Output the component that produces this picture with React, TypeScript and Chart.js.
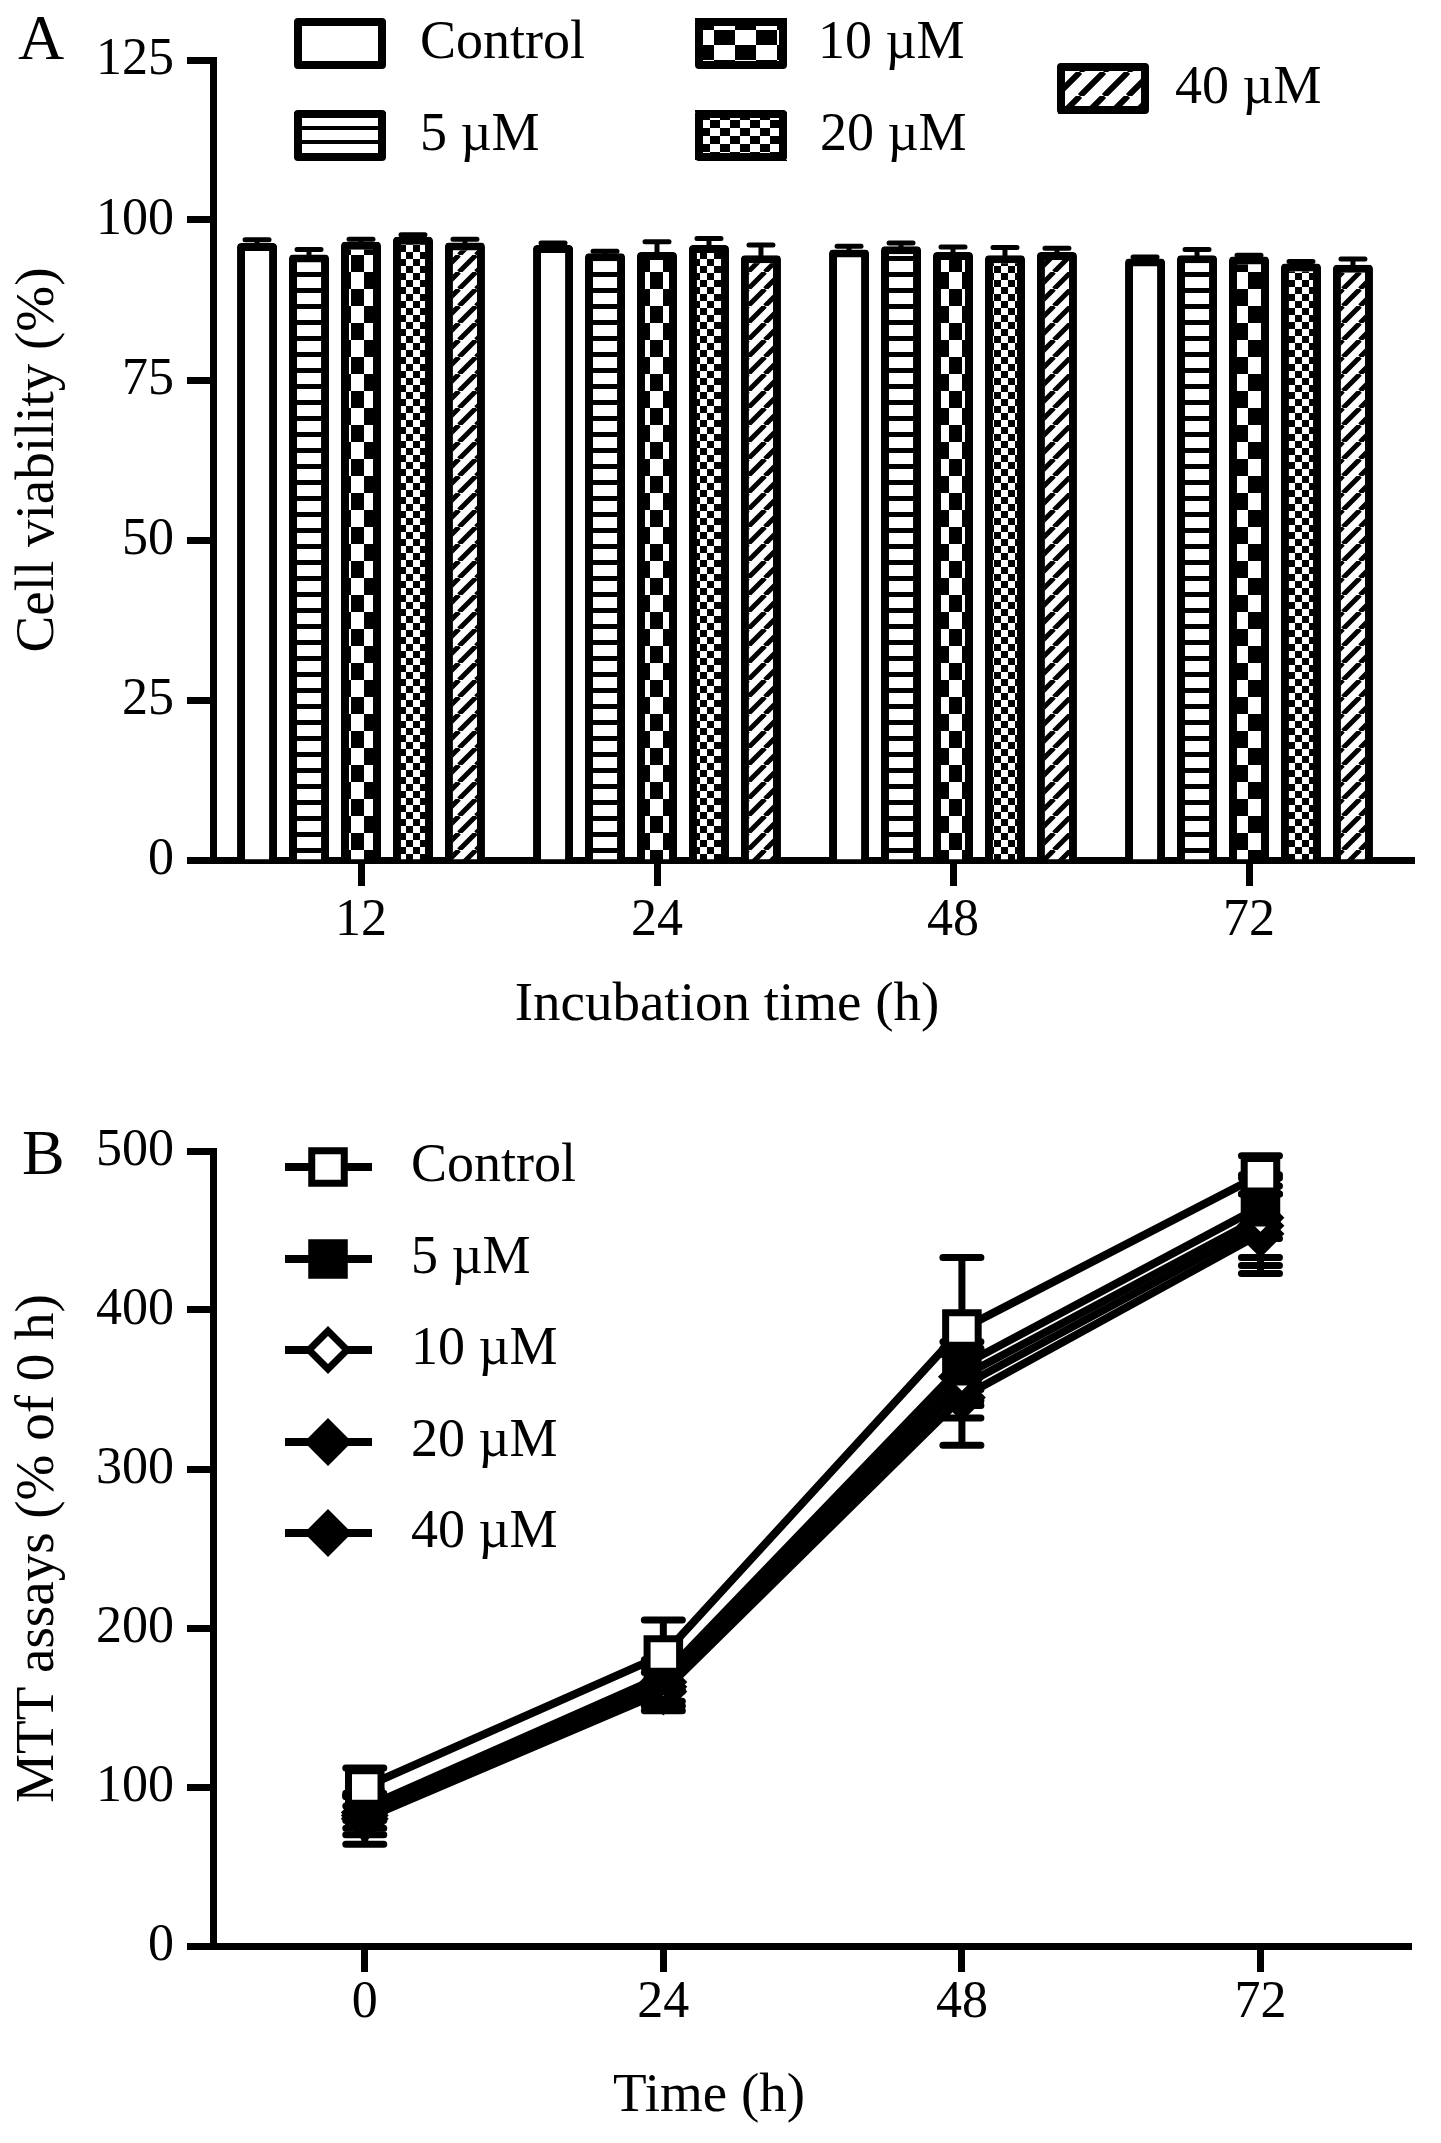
import React, { useEffect, useRef } from "react"
import { Chart, registerables } from "chart.js"

Chart.register(...registerables)

const SERIF = '"Liberation Serif", "Times New Roman", serif'

// ---- panel A: cell viability (%) ----
const viabilityTimes = ["12", "24", "48", "72"]
const doseLabels = ["Control", "5 µM", "10 µM", "20 µM", "40 µM"]
const viabilityControl = [96.4, 96.1, 95.4, 94.0]
const viability5 = [94.6, 94.8, 95.9, 94.5]
const viability10 = [96.6, 95.0, 95.0, 94.3]
const viability20 = [97.4, 96.1, 94.5, 93.2]
const viability40 = [96.5, 94.5, 95.0, 93.0]
const viabilityErrControl = [0.5, 0.3, 0.5, 0.2]
const viabilityErr5 = [0.8, 0.3, 0.5, 0.9]
const viabilityErr10 = [0.4, 1.6, 0.8, 0.2]
const viabilityErr20 = [0.3, 1.0, 1.2, 0.3]
const viabilityErr40 = [0.5, 1.6, 0.6, 0.9]
const viabilityMax = 125
const viabilityStep = 25

// ---- panel B: MTT assays (% of 0 h) ----
const mttTimes = [0, 24, 48, 72]
const mttControl = [100, 183, 388, 485]
const mtt5 = [87, 170, 365, 465]
const mtt10 = [84, 166, 358, 458]
const mtt20 = [82, 163, 352, 453]
const mtt40 = [80, 160, 345, 448]
const mttErrControl = [12, 22, 45, 12]
const mttErr5 = [8, 10, 15, 20]
const mttErr10 = [10, 12, 18, 25]
const mttErr20 = [12, 12, 20, 25]
const mttErr40 = [16, 12, 30, 25]
const mttMax = 500
const mttStep = 100

const viabilitySeries = [viabilityControl, viability5, viability10, viability20, viability40]
const viabilityErrors = [viabilityErrControl, viabilityErr5, viabilityErr10, viabilityErr20, viabilityErr40]
const mttSeries = [mttControl, mtt5, mtt10, mtt20, mtt40]
const mttErrors = [mttErrControl, mttErr5, mttErr10, mttErr20, mttErr40]

const WIDTH = 1441
const HEIGHT_A = 1060
const HEIGHT_B = 1083

type G = CanvasRenderingContext2D

const makePattern = (ctx: G, w: number, h: number, draw: (g: G) => void) => {
  const tile = document.createElement("canvas")
  tile.width = w
  tile.height = h
  const g = tile.getContext("2d")!
  g.fillStyle = "#fff"
  g.fillRect(0, 0, w, h)
  g.fillStyle = "#000"
  g.strokeStyle = "#000"
  draw(g)
  return ctx.createPattern(tile, "repeat")!
}
const stripes = (ctx: G, period: number, thick: number) =>
  makePattern(ctx, 8, period, (g) => g.fillRect(0, 0, 8, thick))
const checker = (ctx: G, cw: number, ch: number) =>
  makePattern(ctx, cw * 2, ch * 2, (g) => {
    g.fillRect(0, 0, cw, ch)
    g.fillRect(cw, ch, cw, ch)
  })
const hatch = (ctx: G, s: number, lw: number) =>
  makePattern(ctx, s, s, (g) => {
    g.lineWidth = lw
    g.beginPath()
    for (const k of [-1, 0, 1]) {
      g.moveTo(k * s, s)
      g.lineTo(k * s + s, 0)
    }
    g.stroke()
  })

const text = (ctx: G, s: string, x: number, y: number, size: number, align: CanvasTextAlign = "left") => {
  ctx.save()
  ctx.fillStyle = "#000"
  ctx.font = `${size}px ${SERIF}`
  ctx.textAlign = align
  ctx.textBaseline = "middle"
  ctx.fillText(s, x, y)
  ctx.restore()
}

const drawMarker = (ctx: G, style: string, filled: boolean, x: number, y: number, r: number) => {
  ctx.save()
  ctx.beginPath()
  if (style === "rect") {
    const h = r * Math.SQRT1_2
    ctx.rect(x - h, y - h, 2 * h, 2 * h)
  } else {
    ctx.moveTo(x, y - r)
    ctx.lineTo(x + r, y)
    ctx.lineTo(x, y + r)
    ctx.lineTo(x - r, y)
    ctx.closePath()
  }
  ctx.fillStyle = filled ? "#000" : "#fff"
  ctx.fill()
  ctx.lineWidth = 7
  ctx.strokeStyle = "#000"
  ctx.stroke()
  ctx.restore()
}

const pointStyles = ["rect", "rect", "rectRot", "rectRot", "rectRot"]
const pointFilled = [false, true, false, true, true]
const pointRadii = [23, 23, 19, 19, 19]

const tickFont = { family: SERIF, size: 52 }
const titleFont = { family: SERIF, size: 55 }

const App: React.FC = () => {
  const refA = useRef<HTMLCanvasElement>(null)
  const refB = useRef<HTMLCanvasElement>(null)

  useEffect(() => {
    const ctxA = refA.current?.getContext("2d")
    const ctxB = refB.current?.getContext("2d")
    if (!ctxA || !ctxB) return

    const barFills = [
      "#fff",
      stripes(ctxA, 16, 5),
      checker(ctxA, 13, 17),
      checker(ctxA, 7, 7),
      hatch(ctxA, 17, 5),
    ]
    const legendFills = [
      "#fff",
      stripes(ctxA, 14, 4),
      checker(ctxA, 21, 15),
      checker(ctxA, 10, 8),
      hatch(ctxA, 24, 6),
    ]

    const legendBoxesA = [
      { x: 294, y: 18, tx: 420 },
      { x: 294, y: 110, tx: 420 },
      { x: 695, y: 18, tx: 818 },
      { x: 695, y: 110, tx: 820 },
      { x: 1057, y: 63, tx: 1175 },
    ]

    const decorA = {
      id: "decorA",
      afterDatasetsDraw(chart: Chart) {
        const { ctx } = chart
        const y = chart.scales.y
        chart.data.datasets.forEach((ds, i) => {
          const meta = chart.getDatasetMeta(i)
          meta.data.forEach((bar: any, j: number) => {
            const v = ds.data[j] as number
            const top = y.getPixelForValue(v + viabilityErrors[i][j])
            ctx.save()
            ctx.strokeStyle = "#000"
            ctx.lineWidth = 5
            ctx.lineCap = "round"
            ctx.beginPath()
            ctx.moveTo(bar.x, bar.y)
            ctx.lineTo(bar.x, top)
            ctx.moveTo(bar.x - 12, top)
            ctx.lineTo(bar.x + 12, top)
            ctx.stroke()
            ctx.restore()
          })
        })
      },
      afterDraw(chart: Chart) {
        const { ctx, chartArea } = chart
        // axis line runs a little past the last category
        const axisY = Math.round(chart.scales.x.top - 3.5) + 3.5
        ctx.save()
        ctx.strokeStyle = "#000"
        ctx.lineWidth = 7
        ctx.lineCap = "butt"
        ctx.beginPath()
        ctx.moveTo(chartArea.right - 6, axisY)
        ctx.lineTo(chartArea.right + 18, axisY)
        ctx.stroke()
        ctx.restore()

        legendBoxesA.forEach((b, i) => {
          ctx.save()
          ctx.fillStyle = legendFills[i]
          ctx.fillRect(b.x, b.y, 92, 51)
          ctx.lineWidth = 8
          ctx.lineJoin = "round"
          ctx.strokeStyle = "#000"
          ctx.strokeRect(b.x + 4, b.y + 4, 84, 43)
          ctx.restore()
          text(ctx, doseLabels[i], b.tx, b.y + 26, 54)
        })
        text(ctx, "Incubation time (h)", 727, 1006, 55, "center")
        text(ctx, "A", 18, 42, 64)
      },
    }

    const chartA = new Chart(ctxA, {
      type: "bar",
      data: {
        labels: viabilityTimes,
        datasets: viabilitySeries.map((values, i) => ({
          label: doseLabels[i],
          data: values,
          backgroundColor: barFills[i],
          borderColor: "#000",
          borderWidth: 8,
          borderRadius: 4,
          categoryPercentage: 0.878,
          barPercentage: 0.77,
        })),
      },
      options: {
        responsive: false,
        devicePixelRatio: 1,
        animation: false,
        layout: { padding: { left: 0, top: 60, right: 44, bottom: 0 } },
        plugins: { legend: { display: false }, tooltip: { enabled: false } },
        scales: {
          x: {
            grid: { offset: false, drawOnChartArea: false, tickLength: 26, tickWidth: 7, tickColor: "#000" },
            border: { display: true, width: 7, color: "#000" },
            ticks: { font: tickFont, color: "#000", padding: 4, maxRotation: 0 },
            afterFit: (s: any) => {
              s.height = 200
            },
          },
          y: {
            min: 0,
            max: viabilityMax,
            ticks: { stepSize: viabilityStep, font: tickFont, color: "#000", padding: 13 },
            grid: { drawOnChartArea: false, tickLength: 26, tickWidth: 7, tickColor: "#000" },
            border: { display: true, width: 7, color: "#000" },
            title: { display: true, text: "Cell viability (%)", font: titleFont, color: "#000", padding: { top: 6, bottom: 0 } },
            afterFit: (s: any) => {
              s.width = 213
            },
          },
        },
      },
      plugins: [decorA],
    })

    const legendRowsB = [107, 199, 290, 382, 473]

    const decorB = {
      id: "decorB",
      beforeDatasetsDraw(chart: Chart) {
        const { ctx } = chart
        const xs = chart.scales.x
        const ys = chart.scales.y
        mttSeries.forEach((values, i) => {
          values.forEach((v, j) => {
            const x = xs.getPixelForValue(mttTimes[j])
            const hi = ys.getPixelForValue(v + mttErrors[i][j])
            const lo = ys.getPixelForValue(v - mttErrors[i][j])
            ctx.save()
            ctx.strokeStyle = "#000"
            ctx.lineWidth = 7
            ctx.lineCap = "round"
            ctx.beginPath()
            ctx.moveTo(x, hi)
            ctx.lineTo(x, lo)
            ctx.moveTo(x - 19, hi)
            ctx.lineTo(x + 19, hi)
            ctx.moveTo(x - 19, lo)
            ctx.lineTo(x + 19, lo)
            ctx.stroke()
            ctx.restore()
          })
        })
      },
      afterDraw(chart: Chart) {
        const { ctx } = chart
        legendRowsB.forEach((y, i) => {
          ctx.save()
          ctx.strokeStyle = "#000"
          ctx.lineWidth = 8
          ctx.beginPath()
          ctx.moveTo(285, y)
          ctx.lineTo(372, y)
          ctx.stroke()
          ctx.restore()
          drawMarker(ctx, pointStyles[i], pointFilled[i], 328, y, pointStyles[i] === "rect" ? 23 : 19)
          text(ctx, doseLabels[i], 411, y, 54)
        })
        text(ctx, "Time (h)", 709, 1037, 55, "center")
        text(ctx, "B", 22, 97, 64)
      },
    }

    const chartB = new Chart(ctxB, {
      type: "line",
      data: {
        datasets: mttSeries.map((values, i) => ({
          label: doseLabels[i],
          data: values.map((v, j) => ({ x: mttTimes[j], y: v })),
          borderColor: "#000",
          borderWidth: 8,
          tension: 0,
          pointStyle: pointStyles[i] as any,
          pointRadius: pointRadii[i],
          pointBackgroundColor: pointFilled[i] ? "#000" : "#fff",
          pointBorderColor: "#000",
          pointBorderWidth: 7,
          clip: false as any,
        })),
      },
      options: {
        responsive: false,
        devicePixelRatio: 1,
        animation: false,
        layout: { padding: { left: 0, top: 91, right: 23, bottom: 0 } },
        plugins: { legend: { display: false }, tooltip: { enabled: false } },
        scales: {
          x: {
            type: "linear",
            min: -12.2,
            max: 84.1,
            afterBuildTicks: (s: any) => {
              s.ticks = mttTimes.map((v) => ({ value: v }))
            },
            grid: { drawOnChartArea: false, tickLength: 26, tickWidth: 7, tickColor: "#000" },
            border: { display: true, width: 7, color: "#000" },
            ticks: { font: tickFont, color: "#000", padding: 0, maxRotation: 0 },
            afterFit: (s: any) => {
              s.height = HEIGHT_B - 886
            },
          },
          y: {
            min: 0,
            max: mttMax,
            ticks: { stepSize: mttStep, font: tickFont, color: "#000", padding: 13 },
            grid: { drawOnChartArea: false, tickLength: 26, tickWidth: 7, tickColor: "#000" },
            border: { display: true, width: 7, color: "#000" },
            title: { display: true, text: "MTT assays (% of 0 h)", font: titleFont, color: "#000", padding: { top: 6, bottom: 0 } },
            afterFit: (s: any) => {
              s.width = 213
            },
          },
        },
      },
      plugins: [decorB],
    })

    return () => {
      chartA.destroy()
      chartB.destroy()
    }
  }, [])

  return (
    <div style={{ position: "absolute", left: 0, top: 0, width: WIDTH, height: HEIGHT_A + HEIGHT_B, background: "#fff" }}>
      <canvas ref={refA} width={WIDTH} height={HEIGHT_A} style={{ position: "absolute", left: 0, top: 0 }} />
      <canvas ref={refB} width={WIDTH} height={HEIGHT_B} style={{ position: "absolute", left: 0, top: HEIGHT_A }} />
    </div>
  )
}

export default App
